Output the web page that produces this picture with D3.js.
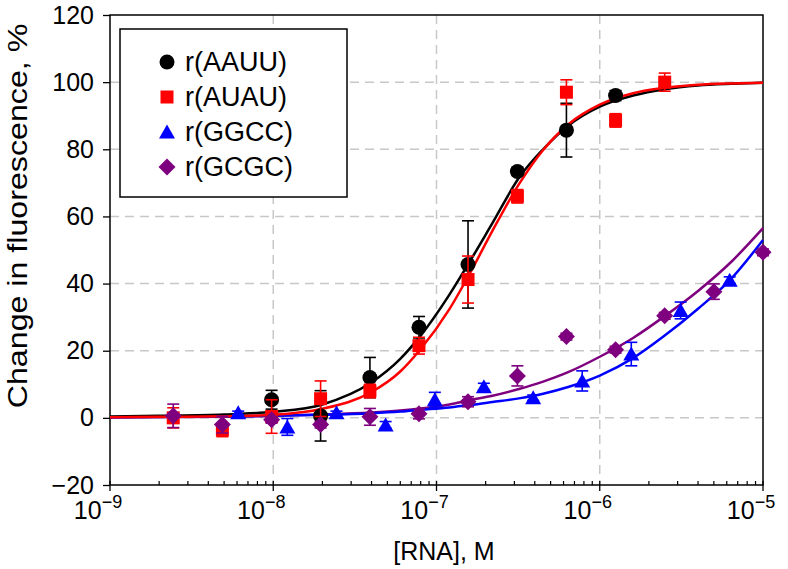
<!DOCTYPE html>
<html><head><meta charset="utf-8">
<script src="https://cdn.jsdelivr.net/npm/d3@7"></script>
<style>body{margin:0;background:#fff} text{font-family:"Liberation Sans",Arial,Helvetica,sans-serif;fill:#000}</style>
</head><body><svg id="c" width="788" height="569"></svg>
<script>
// ---------- data ----------
const seriesNames = ["r(AAUU)", "r(AUAU)", "r(GGCC)", "r(GCGC)"];
const seriesColors = ["#000000", "#ff0000", "#0000ff", "#7f007f"];
const seriesShapes = ["circle", "square", "triangle", "diamond"];

const concAAUU = [9.77e-9, 1.95e-8, 3.91e-8, 7.81e-8, 1.56e-7, 3.13e-7, 6.25e-7, 1.25e-6];
const valAAUU  = [5.4, 0.6, 12.0, 27.0, 45.7, 73.4, 85.7, 96.0];
const errAAUU  = [2.8, 7.5, 6.0, 3.2, 13.0, 1.2, 8.0, 1.5];

const concAUAU = [2.44e-9, 4.88e-9, 9.77e-9, 1.95e-8, 3.91e-8, 7.81e-8, 1.56e-7, 3.13e-7, 6.25e-7, 1.25e-6, 2.5e-6];
const valAUAU  = [0.0, -3.6, 0.4, 5.7, 8.0, 21.5, 41.2, 66.0, 97.0, 88.6, 100.0];
const errAUAU  = [3.0, 2.0, 5.0, 5.3, 2.0, 2.5, 7.0, 2.0, 3.7, 2.0, 2.7];

const concGGCC = [6.1e-9, 1.22e-8, 2.44e-8, 4.88e-8, 9.77e-8, 1.95e-7, 3.91e-7, 7.81e-7, 1.56e-6, 3.13e-6, 6.25e-6];
const valGGCC  = [1.5, -2.7, 1.5, -2.1, 5.4, 9.3, 6.0, 11.0, 19.0, 32.0, 41.0];
const errGGCC  = [0.5, 2.5, 0.5, 1.0, 2.2, 1.0, 0.8, 3.0, 3.5, 2.5, 1.0];

const concGCGC = [2.44e-9, 4.88e-9, 9.77e-9, 1.95e-8, 3.91e-8, 7.81e-8, 1.56e-7, 3.13e-7, 6.25e-7, 1.25e-6, 2.5e-6, 5e-6, 1e-5];
const valGCGC  = [0.6, -2.0, -0.6, -2.0, 0.3, 1.2, 4.8, 12.5, 24.2, 20.3, 30.4, 37.6, 49.3];
const errGCGC  = [3.5, 2.5, 1.0, 1.0, 2.5, 1.5, 1.5, 3.0, 1.0, 1.0, 1.0, 2.3, 1.0];

// fitted curves
const fitConc = [1e-9, 2e-9, 5e-9, 1e-8, 2e-8, 4e-8, 6e-8, 8e-8, 1.2e-7, 1.6e-7, 2.2e-7, 3.2e-7, 4.5e-7, 6.4e-7, 1e-6, 1.6e-6, 2.5e-6, 4e-6, 6.4e-6, 1e-5];
const fitAAUU = [0.4, 0.6, 1.0, 1.8, 4.0, 10.6, 17.6, 24.5, 36.7, 46.6, 58.0, 71.5, 80.0, 87.0, 92.7, 96.0, 97.9, 99.0, 99.5, 99.8];
const fitAUAU = [0.2, 0.3, 0.45, 0.9, 2.7, 7.7, 13.8, 20.5, 32.4, 43.0, 55.7, 69.6, 79.8, 87.4, 93.3, 96.7, 98.3, 99.2, 99.6, 99.8];
const fitGGCC = [0.2, 0.3, 0.4, 0.6, 0.9, 1.4, 1.9, 2.4, 3.1, 3.8, 4.7, 5.8, 7.2, 9.2, 12.6, 17.8, 24.5, 32.5, 41.5, 53.0];
const fitGCGC = [0.1, 0.2, 0.3, 0.6, 1.0, 1.6, 2.2, 2.8, 4.0, 5.3, 6.6, 8.6, 10.8, 13.6, 18.2, 23.8, 30.3, 37.8, 46.5, 56.5];

const xTickExps = [-9, -8, -7, -6, -5];
const yTicks = [-20, 0, 20, 40, 60, 80, 100, 120];
const xTitle = "[RNA], M";
const yTitle = "Change in fluorescence, %";

// ---------- chart ----------
const svg = d3.select("#c");
const L = 110, R = 763, T = 15, B = 485;
const x = d3.scaleLog().domain([1e-9, 1e-5]).range([L, R]);
const y = d3.scaleLinear().domain([-20, 120]).range([B, T]);

// grid
const gridG = svg.append("g").attr("stroke", "#c8c8c8").attr("stroke-width", 1.5).attr("stroke-dasharray", "9,6");
gridG.selectAll("line.v").data(xTickExps.slice(1, -1)).join("line")
  .attr("x1", d => x(Math.pow(10, d))).attr("x2", d => x(Math.pow(10, d)))
  .attr("y1", T).attr("y2", B);
gridG.selectAll("line.h").data(yTicks.slice(1, -1)).join("line")
  .attr("x1", L).attr("x2", R).attr("y1", d => y(d)).attr("y2", d => y(d));

// axes
const yAxis = d3.axisLeft(y).tickValues(yTicks).tickSize(7).tickPadding(9)
  .tickFormat(d => d < 0 ? "\u2212" + Math.abs(d) : d);
const gy = svg.append("g").attr("transform", `translate(${L},0)`).call(yAxis);
gy.select(".domain").remove();
gy.selectAll("line").attr("stroke", "#000").attr("stroke-width", 1.3);
gy.selectAll("text").attr("font-size", 25).style("font-family", '"Liberation Sans",Arial,sans-serif');

const minor = [];
for (let e = -9; e < -5; e++) for (let k = 2; k <= 9; k++) minor.push(k * Math.pow(10, e));
const gx = svg.append("g").attr("transform", `translate(0,${B})`);
gx.selectAll("line.mi").data(minor).join("line")
  .attr("x1", d => x(d)).attr("x2", d => x(d)).attr("y1", 0).attr("y2", -4)
  .attr("stroke", "#000").attr("stroke-width", 1.2);
gx.selectAll("line.ma").data(xTickExps).join("line")
  .attr("x1", d => x(Math.pow(10, d))).attr("x2", d => x(Math.pow(10, d))).attr("y1", -4).attr("y2", 6)
  .attr("stroke", "#000").attr("stroke-width", 1.3);
const xl = gx.selectAll("text").data(xTickExps).join("text")
  .attr("x", d => x(Math.pow(10, d)) - 12).attr("y", 34)
  .attr("text-anchor", "middle").attr("font-size", 25);
xl.append("tspan").text("10");
xl.append("tspan").attr("dy", -11).attr("font-size", 18).text(d => "\u2212" + Math.abs(d));

// frame
svg.append("rect").attr("x", L).attr("y", T).attr("width", R - L).attr("height", B - T)
  .attr("fill", "none").attr("stroke", "#000").attr("stroke-width", 1.5);

// titles
svg.append("text").attr("x", 444).attr("y", 560).attr("text-anchor", "middle")
  .attr("font-size", 25).text(xTitle);
svg.append("text").attr("transform", `translate(27,216) scale(1,1.15) rotate(-90)`)
  .attr("text-anchor", "middle").attr("font-size", 28).text(yTitle);

// curves
const fits = [fitAAUU, fitAUAU, fitGGCC, fitGCGC];
const line = d3.line().x(d => x(d[0])).y(d => y(d[1])).curve(d3.curveMonotoneX);
const curveOrder = [3, 2, 0, 1];
curveOrder.forEach(i => {
  svg.append("path").datum(fitConc.map((c, j) => [c, fits[i][j]]))
    .attr("d", line).attr("fill", "none").attr("stroke", seriesColors[i]).attr("stroke-width", 2.5);
});

// markers
function symbolPath(shape) {
  if (shape === "circle") return "M-7.5,0A7.5,7.5 0 1,0 7.5,0A7.5,7.5 0 1,0 -7.5,0Z";
  if (shape === "square") return "M-6.5,-6.5H6.5V6.5H-6.5Z";
  if (shape === "triangle") return "M0,-7.5L8,6.5H-8Z";
  return "M0,-8.5L8.5,0L0,8.5L-8.5,0Z";
}
const concs = [concAAUU, concAUAU, concGGCC, concGCGC];
const vals = [valAAUU, valAUAU, valGGCC, valGCGC];
const errs = [errAAUU, errAUAU, errGGCC, errGCGC];
[0, 1, 2, 3].forEach(i => {
  const g = svg.append("g");
  const pts = concs[i].map((c, j) => ({c, v: vals[i][j], e: errs[i][j]}));
  const eb = g.selectAll("g.eb").data(pts).join("g").attr("stroke", seriesColors[i]).attr("stroke-width", 1.6);
  eb.append("line").attr("x1", d => x(d.c)).attr("x2", d => x(d.c)).attr("y1", d => y(d.v - d.e)).attr("y2", d => y(d.v + d.e));
  eb.append("line").attr("x1", d => x(d.c) - 6).attr("x2", d => x(d.c) + 6).attr("y1", d => y(d.v - d.e)).attr("y2", d => y(d.v - d.e));
  eb.append("line").attr("x1", d => x(d.c) - 6).attr("x2", d => x(d.c) + 6).attr("y1", d => y(d.v + d.e)).attr("y2", d => y(d.v + d.e));
  g.selectAll("path.m").data(pts).join("path").attr("class", "m")
    .attr("transform", d => `translate(${x(d.c)},${y(d.v)})`)
    .attr("d", symbolPath(seriesShapes[i])).attr("fill", seriesColors[i]);
});

// legend
const lg = svg.append("g");
lg.append("rect").attr("x", 120).attr("y", 29).attr("width", 227).attr("height", 168)
  .attr("fill", "#fff").attr("stroke", "#000").attr("stroke-width", 1.5);
seriesNames.forEach((n, i) => {
  const cy = 62 + i * 35;
  lg.append("path").attr("transform", `translate(167,${cy})`).attr("d", symbolPath(seriesShapes[i])).attr("fill", seriesColors[i]);
  lg.append("text").attr("x", 185).attr("y", cy + 9).attr("font-size", 27).text(n);
});
</script></body></html>
